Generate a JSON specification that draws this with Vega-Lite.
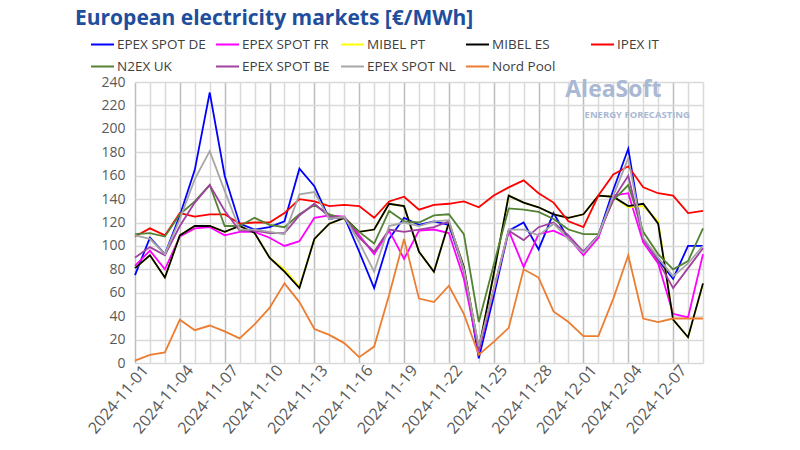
{
  "$schema": "https://vega.github.io/schema/vega-lite/v6.json",
  "width": 568,
  "height": 281,
  "autosize": {"type": "none"},
  "padding": {"left": 135, "top": 82, "right": 97, "bottom": 87},
  "background": "white",
  "config": {"view": {"stroke": null}, "font": "Open Sans"},
  "title": {"text": "European electricity markets [€/MWh]", "anchor": "start", "frame": "group", "dx": -60, "offset": 3, "fontSize": 21, "fontWeight": "bold", "color": "#1F4E9C", "font": "Open Sans"},
  "datasets": {
    "prices": [
      {"date": "2024-11-01", "EPEX SPOT DE": 75, "EPEX SPOT FR": 83, "MIBEL PT": 81, "MIBEL ES": 81, "IPEX IT": 108, "N2EX UK": 110, "EPEX SPOT BE": 90, "EPEX SPOT NL": 109, "Nord Pool": 2},
      {"date": "2024-11-02", "EPEX SPOT DE": 107, "EPEX SPOT FR": 96, "MIBEL PT": 92, "MIBEL ES": 92, "IPEX IT": 115, "N2EX UK": 111, "EPEX SPOT BE": 99, "EPEX SPOT NL": 106, "Nord Pool": 7},
      {"date": "2024-11-03", "EPEX SPOT DE": 93, "EPEX SPOT FR": 80, "MIBEL PT": 73, "MIBEL ES": 73, "IPEX IT": 109, "N2EX UK": 108, "EPEX SPOT BE": 92, "EPEX SPOT NL": 93, "Nord Pool": 9},
      {"date": "2024-11-04", "EPEX SPOT DE": 126, "EPEX SPOT FR": 108, "MIBEL PT": 109, "MIBEL ES": 109, "IPEX IT": 128, "N2EX UK": 127, "EPEX SPOT BE": 117, "EPEX SPOT NL": 123, "Nord Pool": 37},
      {"date": "2024-11-05", "EPEX SPOT DE": 165, "EPEX SPOT FR": 115, "MIBEL PT": 117, "MIBEL ES": 117, "IPEX IT": 125, "N2EX UK": 138, "EPEX SPOT BE": 137, "EPEX SPOT NL": 157, "Nord Pool": 28},
      {"date": "2024-11-06", "EPEX SPOT DE": 231, "EPEX SPOT FR": 116, "MIBEL PT": 117, "MIBEL ES": 117, "IPEX IT": 127, "N2EX UK": 152, "EPEX SPOT BE": 152, "EPEX SPOT NL": 181, "Nord Pool": 32},
      {"date": "2024-11-07", "EPEX SPOT DE": 160, "EPEX SPOT FR": 109, "MIBEL PT": 112, "MIBEL ES": 112, "IPEX IT": 127, "N2EX UK": 117, "EPEX SPOT BE": 130, "EPEX SPOT NL": 147, "Nord Pool": 27},
      {"date": "2024-11-08", "EPEX SPOT DE": 119, "EPEX SPOT FR": 112, "MIBEL PT": 117, "MIBEL ES": 117, "IPEX IT": 119, "N2EX UK": 117, "EPEX SPOT BE": 113, "EPEX SPOT NL": 114, "Nord Pool": 21},
      {"date": "2024-11-09", "EPEX SPOT DE": 114, "EPEX SPOT FR": 112, "MIBEL PT": 111, "MIBEL ES": 111, "IPEX IT": 120, "N2EX UK": 124, "EPEX SPOT BE": 113, "EPEX SPOT NL": 114, "Nord Pool": 33},
      {"date": "2024-11-10", "EPEX SPOT DE": 116, "EPEX SPOT FR": 107, "MIBEL PT": 90, "MIBEL ES": 90, "IPEX IT": 120, "N2EX UK": 118, "EPEX SPOT BE": 111, "EPEX SPOT NL": 112, "Nord Pool": 47},
      {"date": "2024-11-11", "EPEX SPOT DE": 121, "EPEX SPOT FR": 100, "MIBEL PT": 80, "MIBEL ES": 78, "IPEX IT": 128, "N2EX UK": 116, "EPEX SPOT BE": 111, "EPEX SPOT NL": 110, "Nord Pool": 68},
      {"date": "2024-11-12", "EPEX SPOT DE": 166, "EPEX SPOT FR": 104, "MIBEL PT": 65, "MIBEL ES": 64, "IPEX IT": 140, "N2EX UK": 127, "EPEX SPOT BE": 126, "EPEX SPOT NL": 144, "Nord Pool": 52},
      {"date": "2024-11-13", "EPEX SPOT DE": 151, "EPEX SPOT FR": 124, "MIBEL PT": 106, "MIBEL ES": 106, "IPEX IT": 138, "N2EX UK": 135, "EPEX SPOT BE": 136, "EPEX SPOT NL": 146, "Nord Pool": 29},
      {"date": "2024-11-14", "EPEX SPOT DE": 123, "EPEX SPOT FR": 126, "MIBEL PT": 119, "MIBEL ES": 119, "IPEX IT": 134, "N2EX UK": 127, "EPEX SPOT BE": 125, "EPEX SPOT NL": 123, "Nord Pool": 24},
      {"date": "2024-11-15", "EPEX SPOT DE": 125, "EPEX SPOT FR": 125, "MIBEL PT": 124, "MIBEL ES": 124, "IPEX IT": 135, "N2EX UK": 123, "EPEX SPOT BE": 124, "EPEX SPOT NL": 125, "Nord Pool": 17},
      {"date": "2024-11-16", "EPEX SPOT DE": 95, "EPEX SPOT FR": 109, "MIBEL PT": 112, "MIBEL ES": 112, "IPEX IT": 134, "N2EX UK": 112, "EPEX SPOT BE": 107, "EPEX SPOT NL": 103, "Nord Pool": 5},
      {"date": "2024-11-17", "EPEX SPOT DE": 64, "EPEX SPOT FR": 93, "MIBEL PT": 114, "MIBEL ES": 114, "IPEX IT": 124, "N2EX UK": 102, "EPEX SPOT BE": 95, "EPEX SPOT NL": 78, "Nord Pool": 14},
      {"date": "2024-11-18", "EPEX SPOT DE": 106, "EPEX SPOT FR": 113, "MIBEL PT": 136, "MIBEL ES": 136, "IPEX IT": 138, "N2EX UK": 130, "EPEX SPOT BE": 114, "EPEX SPOT NL": 117, "Nord Pool": 58},
      {"date": "2024-11-19", "EPEX SPOT DE": 124, "EPEX SPOT FR": 89, "MIBEL PT": 134, "MIBEL ES": 134, "IPEX IT": 142, "N2EX UK": 121, "EPEX SPOT BE": 112, "EPEX SPOT NL": 120, "Nord Pool": 106},
      {"date": "2024-11-20", "EPEX SPOT DE": 118, "EPEX SPOT FR": 113, "MIBEL PT": 95, "MIBEL ES": 95, "IPEX IT": 131, "N2EX UK": 120, "EPEX SPOT BE": 114, "EPEX SPOT NL": 117, "Nord Pool": 55},
      {"date": "2024-11-21", "EPEX SPOT DE": 121, "EPEX SPOT FR": 114, "MIBEL PT": 78, "MIBEL ES": 78, "IPEX IT": 135, "N2EX UK": 126, "EPEX SPOT BE": 116, "EPEX SPOT NL": 121, "Nord Pool": 52},
      {"date": "2024-11-22", "EPEX SPOT DE": 118, "EPEX SPOT FR": 111, "MIBEL PT": 120, "MIBEL ES": 120, "IPEX IT": 136, "N2EX UK": 127, "EPEX SPOT BE": 121, "EPEX SPOT NL": 122, "Nord Pool": 66},
      {"date": "2024-11-23", "EPEX SPOT DE": 80, "EPEX SPOT FR": 72, "MIBEL PT": 82, "MIBEL ES": 82, "IPEX IT": 138, "N2EX UK": 110, "EPEX SPOT BE": 78, "EPEX SPOT NL": 80, "Nord Pool": 42},
      {"date": "2024-11-24", "EPEX SPOT DE": 4, "EPEX SPOT FR": 10, "MIBEL PT": 12, "MIBEL ES": 12, "IPEX IT": 133, "N2EX UK": 35, "EPEX SPOT BE": 11, "EPEX SPOT NL": 14, "Nord Pool": 7},
      {"date": "2024-11-25", "EPEX SPOT DE": 57, "EPEX SPOT FR": 62, "MIBEL PT": 76, "MIBEL ES": 76, "IPEX IT": 143, "N2EX UK": 84, "EPEX SPOT BE": 63, "EPEX SPOT NL": 63, "Nord Pool": 18},
      {"date": "2024-11-26", "EPEX SPOT DE": 113, "EPEX SPOT FR": 113, "MIBEL PT": 143, "MIBEL ES": 143, "IPEX IT": 150, "N2EX UK": 132, "EPEX SPOT BE": 113, "EPEX SPOT NL": 114, "Nord Pool": 30},
      {"date": "2024-11-27", "EPEX SPOT DE": 120, "EPEX SPOT FR": 82, "MIBEL PT": 137, "MIBEL ES": 137, "IPEX IT": 156, "N2EX UK": 131, "EPEX SPOT BE": 105, "EPEX SPOT NL": 114, "Nord Pool": 80},
      {"date": "2024-11-28", "EPEX SPOT DE": 97, "EPEX SPOT FR": 110, "MIBEL PT": 133, "MIBEL ES": 133, "IPEX IT": 145, "N2EX UK": 129, "EPEX SPOT BE": 116, "EPEX SPOT NL": 109, "Nord Pool": 73},
      {"date": "2024-11-29", "EPEX SPOT DE": 128, "EPEX SPOT FR": 113, "MIBEL PT": 127, "MIBEL ES": 127, "IPEX IT": 137, "N2EX UK": 123, "EPEX SPOT BE": 120, "EPEX SPOT NL": 119, "Nord Pool": 44},
      {"date": "2024-11-30", "EPEX SPOT DE": 106, "EPEX SPOT FR": 107, "MIBEL PT": 124, "MIBEL ES": 124, "IPEX IT": 121, "N2EX UK": 114, "EPEX SPOT BE": 109, "EPEX SPOT NL": 106, "Nord Pool": 35},
      {"date": "2024-12-01", "EPEX SPOT DE": 95, "EPEX SPOT FR": 92, "MIBEL PT": 127, "MIBEL ES": 127, "IPEX IT": 116, "N2EX UK": 110, "EPEX SPOT BE": 95, "EPEX SPOT NL": 94, "Nord Pool": 23},
      {"date": "2024-12-02", "EPEX SPOT DE": 109, "EPEX SPOT FR": 107, "MIBEL PT": 143, "MIBEL ES": 143, "IPEX IT": 143, "N2EX UK": 110, "EPEX SPOT BE": 109, "EPEX SPOT NL": 109, "Nord Pool": 23},
      {"date": "2024-12-03", "EPEX SPOT DE": 148, "EPEX SPOT FR": 143, "MIBEL PT": 142, "MIBEL ES": 142, "IPEX IT": 161, "N2EX UK": 139, "EPEX SPOT BE": 140, "EPEX SPOT NL": 143, "Nord Pool": 55},
      {"date": "2024-12-04", "EPEX SPOT DE": 183, "EPEX SPOT FR": 145, "MIBEL PT": 133, "MIBEL ES": 134, "IPEX IT": 168, "N2EX UK": 152, "EPEX SPOT BE": 160, "EPEX SPOT NL": 175, "Nord Pool": 92},
      {"date": "2024-12-05", "EPEX SPOT DE": 106, "EPEX SPOT FR": 103, "MIBEL PT": 134, "MIBEL ES": 136, "IPEX IT": 150, "N2EX UK": 112, "EPEX SPOT BE": 106, "EPEX SPOT NL": 107, "Nord Pool": 38},
      {"date": "2024-12-06", "EPEX SPOT DE": 88, "EPEX SPOT FR": 85, "MIBEL PT": 121, "MIBEL ES": 119, "IPEX IT": 145, "N2EX UK": 93, "EPEX SPOT BE": 87, "EPEX SPOT NL": 90, "Nord Pool": 35},
      {"date": "2024-12-07", "EPEX SPOT DE": 72, "EPEX SPOT FR": 42, "MIBEL PT": 37, "MIBEL ES": 37, "IPEX IT": 143, "N2EX UK": 80, "EPEX SPOT BE": 64, "EPEX SPOT NL": 74, "Nord Pool": 38},
      {"date": "2024-12-08", "EPEX SPOT DE": 100, "EPEX SPOT FR": 39, "MIBEL PT": 22, "MIBEL ES": 22, "IPEX IT": 128, "N2EX UK": 87, "EPEX SPOT BE": 81, "EPEX SPOT NL": 85, "Nord Pool": 38},
      {"date": "2024-12-09", "EPEX SPOT DE": 100, "EPEX SPOT FR": 93, "MIBEL PT": 68, "MIBEL ES": 68, "IPEX IT": 130, "N2EX UK": 115, "EPEX SPOT BE": 98, "EPEX SPOT NL": 100, "Nord Pool": 38}
    ]
  },
  "resolve": {"axis": {"x": "independent", "y": "independent"}},
  "layer": [
    {
      "data": {"name": "prices"},
      "transform": [
        {"fold": ["EPEX SPOT DE", "EPEX SPOT FR", "MIBEL PT", "MIBEL ES", "IPEX IT", "N2EX UK", "EPEX SPOT BE", "EPEX SPOT NL", "Nord Pool"], "as": ["series", "value"]}
      ],
      "mark": {"type": "line", "strokeWidth": 1.8},
      "encoding": {
        "x": {
          "field": "date", "type": "ordinal",
          "scale": {"type": "point", "padding": 0},
          "axis": {
            "title": null, "labelAngle": -50, "labelOverlap": false,
            "labelExpr": "toNumber(slice(datum.value, 8)) % 3 == 1 ? datum.value : ''",
            "grid": true,
            "gridColor": {"condition": {"test": "toNumber(slice(datum.value, 8)) % 3 == 1", "value": "#bdbdbd"}, "value": "#d9d9d9"},
            "gridWidth": 1.5, "ticks": false, "domain": false,
            "labelFontSize": 16, "labelColor": "#595959", "labelPadding": 4, "labelOffset": 10, "labelFont": "Open Sans"
          }
        },
        "y": {
          "field": "value", "type": "quantitative",
          "scale": {"domain": [0, 240], "nice": false},
          "axis": {
            "title": null, "values": [0, 20, 40, 60, 80, 100, 120, 140, 160, 180, 200, 220, 240],
            "labelOverlap": false,
            "grid": true, "gridColor": "#d9d9d9", "gridWidth": 1.5, "ticks": false, "domain": false,
            "labelFontSize": 14, "labelColor": "#595959", "labelPadding": 10, "labelFont": "Open Sans"
          }
        },
        "color": {
          "field": "series", "type": "nominal",
          "scale": {
            "domain": ["EPEX SPOT DE", "EPEX SPOT FR", "MIBEL PT", "MIBEL ES", "IPEX IT", "N2EX UK", "EPEX SPOT BE", "EPEX SPOT NL", "Nord Pool"],
            "range": ["#0000FF", "#FF00FF", "#FFFF00", "#000000", "#FF0000", "#548235", "#A040A0", "#A6A6A6", "#ED7D31"]
          },
          "legend": {
            "title": null, "orient": "none", "legendX": -45, "legendY": -50,
            "direction": "horizontal", "columns": 5, "gridAlign": "all",
            "symbolType": "stroke", "symbolSize": 529, "symbolStrokeWidth": 2,
            "labelFontSize": 13.5, "labelColor": "#404040", "labelFont": "Open Sans",
            "labelOffset": 2, "columnPadding": 6, "rowPadding": 3
          }
        }
      }
    },
    {
      "data": {"values": [{}]},
      "mark": {"type": "text", "fontSize": 23, "fontWeight": "bold", "color": "#A9B8D3", "font": "Open Sans", "align": "center", "baseline": "middle"},
      "encoding": {
        "x": {"datum": "2024-12-03", "type": "ordinal", "axis": null},
        "y": {"datum": 233, "type": "quantitative", "axis": null},
        "text": {"value": "AleaSoft"}
      }
    },
    {
      "data": {"values": [{}]},
      "mark": {"type": "text", "fontSize": 9.5, "fontWeight": "bold", "color": "#A9B8D3", "font": "Open Sans", "align": "center", "baseline": "middle", "dx": 9},
      "encoding": {
        "x": {"datum": "2024-12-04", "type": "ordinal", "axis": null},
        "y": {"datum": 212, "type": "quantitative", "axis": null},
        "text": {"value": "ENERGY FORECASTING"}
      }
    }
  ]
}
